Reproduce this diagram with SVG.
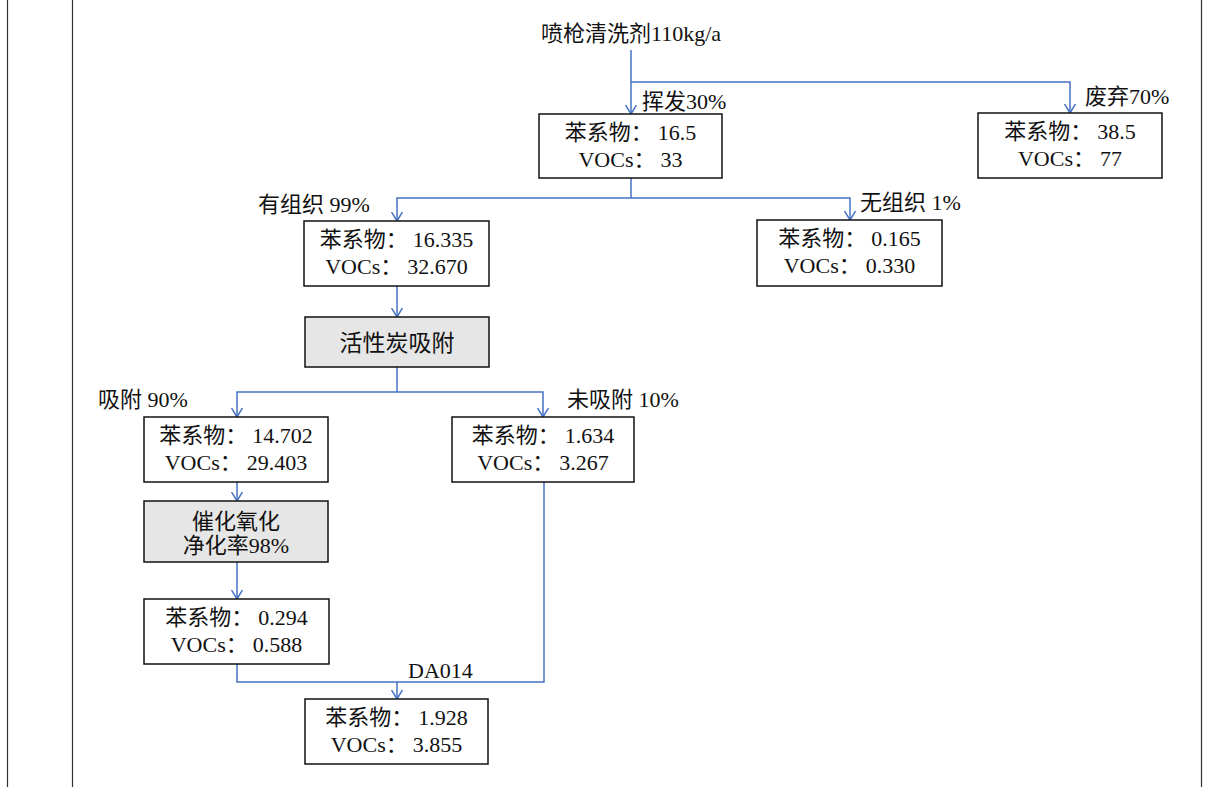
<svg xmlns="http://www.w3.org/2000/svg" width="1205" height="787" viewBox="0 0 1205 787">
<style>
.frame{stroke:#333;stroke-width:1.2;fill:none}
.box{fill:#fff;stroke:#111;stroke-width:1.5}
.gbox{fill:#e6e6e6;stroke:#111;stroke-width:1.5}
.t{font-family:"Liberation Serif","Noto Sans CJK SC",serif;font-size:22px;fill:#111}
.c{text-anchor:middle}
.g{font-family:"Noto Sans CJK SC",sans-serif;font-size:22px;fill:#111;text-anchor:middle}
.ln{fill:none;stroke:#4472C4;stroke-width:1.5}
.ar{marker-end:url(#arr)}
</style>
<defs>
<marker id="arr" viewBox="0 0 10 12" refX="9.5" refY="6" markerWidth="10" markerHeight="12" markerUnits="userSpaceOnUse" orient="auto">
<path d="M0.5,0.5 L9.5,6 L0.5,11.5" fill="none" stroke="#4472C4" stroke-width="1.5"/>
</marker>
</defs>
<rect x="0" y="0" width="1205" height="787" fill="#fff"/>
<g id="frame">
<line class="frame" x1="7.5" y1="0" x2="7.5" y2="787"/>
<line class="frame" x1="72.5" y1="0" x2="72.5" y2="787"/>
<line class="frame" x1="1201.5" y1="0" x2="1201.5" y2="787"/>
</g>
<g id="connectors">
<path class="ln ar" d="M631,50 V114"/>
<path class="ln ar" d="M631,82 H1070 V113"/>
<path class="ln" d="M631,178 V198"/>
<path class="ln ar" d="M631,198 H397 V221"/>
<path class="ln ar" d="M631,198 H850 V220"/>
<path class="ln ar" d="M397,286 V317"/>
<path class="ln" d="M397,367 V392"/>
<path class="ln ar" d="M397,392 H237 V417"/>
<path class="ln ar" d="M397,392 H543 V417"/>
<path class="ln ar" d="M237,482 V501"/>
<path class="ln ar" d="M237,562 V599"/>
<path class="ln" d="M237,664 V682 H544 V482"/>
<path class="ln ar" d="M397,682 V699"/>
</g>
<g id="source">
<text class="t c" x="631" y="41">喷枪清洗剂110kg/a</text>
</g>
<g id="labels">
<text class="t" x="642" y="109">挥发30%</text>
<text class="t" x="1085" y="104">废弃70%</text>
<text class="t" x="258" y="212">有组织 99%</text>
<text class="t" x="860" y="210">无组织 1%</text>
<text class="t" x="98" y="407">吸附 90%</text>
<text class="t" x="567" y="407">未吸附 10%</text>
<text class="t" x="408" y="678">DA014</text>
</g>
<g id="n-volatile">
<rect class="box" x="539" y="114" width="183" height="64"/>
<text class="t c" x="630.5" y="140">苯系物：<tspan dx="5">16.5</tspan></text>
<text class="t c" x="630.5" y="167">VOCs：<tspan dx="5">33</tspan></text>
</g>
<g id="n-waste">
<rect class="box" x="978" y="113" width="184" height="65"/>
<text class="t c" x="1070" y="139">苯系物：<tspan dx="5">38.5</tspan></text>
<text class="t c" x="1070" y="166">VOCs：<tspan dx="5">77</tspan></text>
</g>
<g id="n-organized">
<rect class="box" x="304" y="221" width="185" height="65"/>
<text class="t c" x="396.5" y="247">苯系物：<tspan dx="5">16.335</tspan></text>
<text class="t c" x="396.5" y="274">VOCs：<tspan dx="5">32.670</tspan></text>
</g>
<g id="n-fugitive">
<rect class="box" x="757" y="220" width="185" height="66"/>
<text class="t c" x="849.5" y="246">苯系物：<tspan dx="5">0.165</tspan></text>
<text class="t c" x="849.5" y="273">VOCs：<tspan dx="5">0.330</tspan></text>
</g>
<g id="n-carbon">
<rect class="gbox" x="305" y="317" width="184" height="50"/>
<text class="g" x="397" y="351" style="font-size:23px">活性炭吸附</text>
</g>
<g id="n-adsorbed">
<rect class="box" x="144" y="417" width="184" height="65"/>
<text class="t c" x="236" y="443">苯系物：<tspan dx="5">14.702</tspan></text>
<text class="t c" x="236" y="470">VOCs：<tspan dx="5">29.403</tspan></text>
</g>
<g id="n-unadsorbed">
<rect class="box" x="452" y="417" width="182" height="65"/>
<text class="t c" x="543" y="443">苯系物：<tspan dx="5">1.634</tspan></text>
<text class="t c" x="543" y="470">VOCs：<tspan dx="5">3.267</tspan></text>
</g>
<g id="n-catalytic">
<rect class="gbox" x="144" y="501" width="184" height="61"/>
<text class="g" x="236" y="529">催化氧化</text>
<text class="t c" x="236" y="553">净化率98%</text>
</g>
<g id="n-treated">
<rect class="box" x="144" y="599" width="185" height="65"/>
<text class="t c" x="236.5" y="625">苯系物：<tspan dx="5">0.294</tspan></text>
<text class="t c" x="236.5" y="652">VOCs：<tspan dx="5">0.588</tspan></text>
</g>
<g id="n-da014">
<rect class="box" x="305" y="699" width="183" height="65"/>
<text class="t c" x="396.5" y="725">苯系物：<tspan dx="5">1.928</tspan></text>
<text class="t c" x="396.5" y="752">VOCs：<tspan dx="5">3.855</tspan></text>
</g>
</svg>
